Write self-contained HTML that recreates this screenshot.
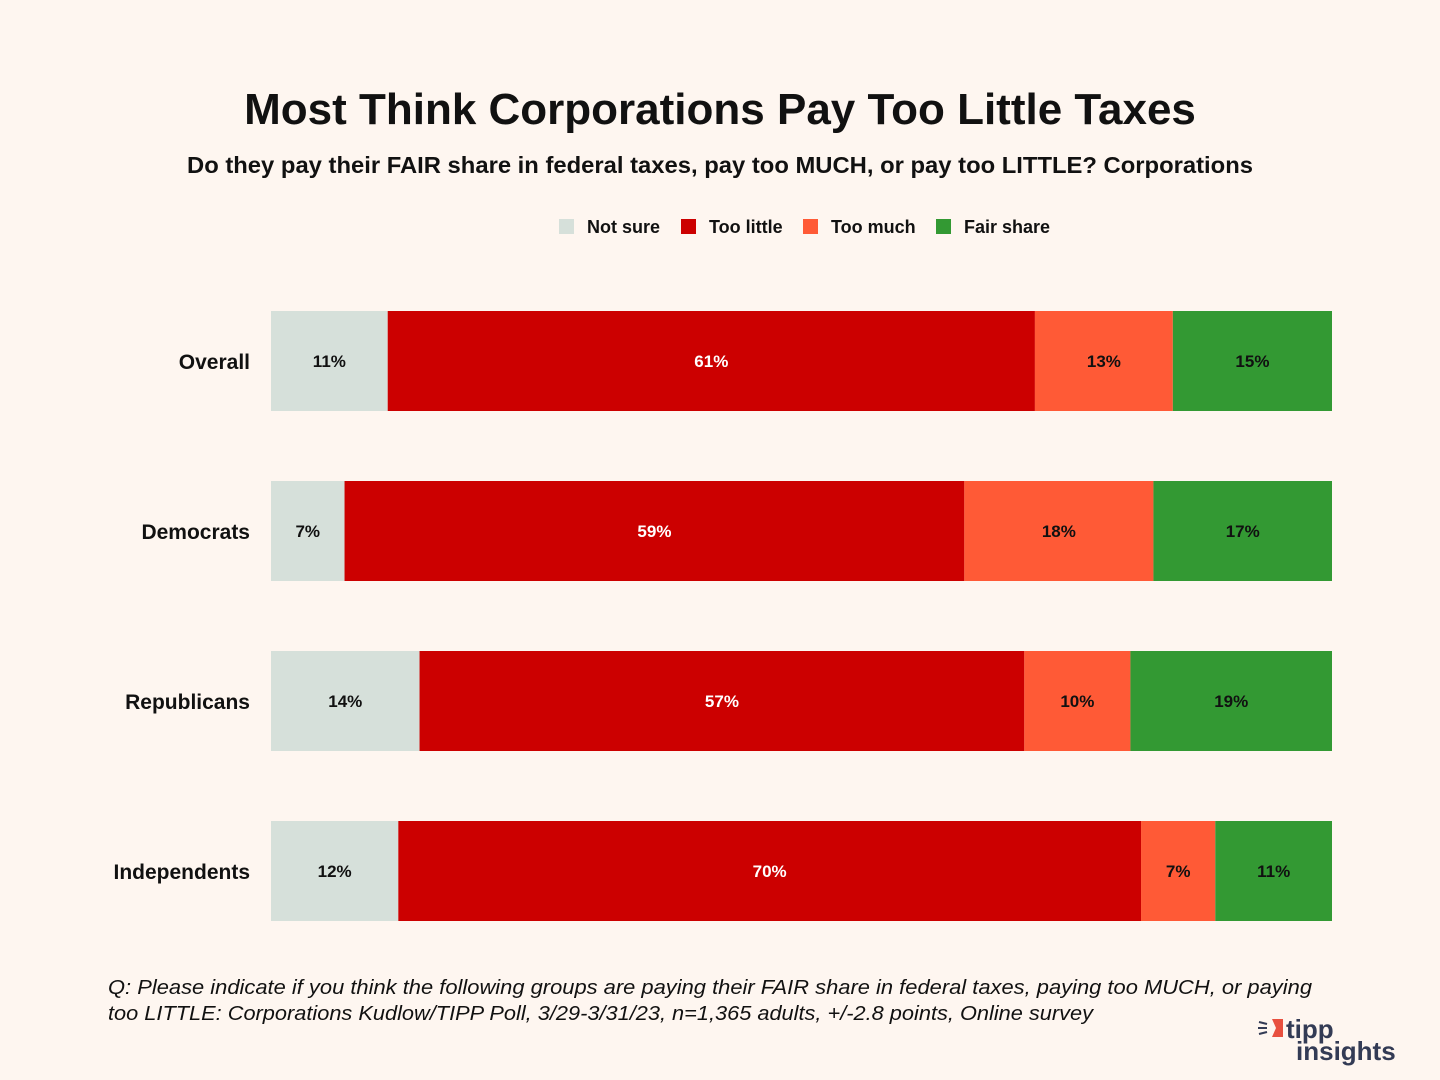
<!DOCTYPE html>
<html><head><meta charset="utf-8">
<style>
html,body{margin:0;padding:0;background:#fef6f0;}
svg{display:block;font-family:"Liberation Sans","DejaVu Sans",sans-serif;}
</style></head>
<body>
<svg id="chart" width="1440" height="1080" viewBox="0 0 1440 1080">
<rect width="1440" height="1080" fill="#fef6f0"/>
<text x="720" y="124" text-anchor="middle" font-size="44" font-weight="bold" fill="#111">Most Think Corporations Pay Too Little Taxes</text>
<text x="187" y="173" textLength="1066" lengthAdjust="spacingAndGlyphs" font-size="23" font-weight="bold" fill="#111">Do they pay their FAIR share in federal taxes, pay too MUCH, or pay too LITTLE? Corporations</text>
<g id="legend"></g>
<g id="bars"></g>
<text x="108" y="994" textLength="1204" lengthAdjust="spacingAndGlyphs" font-size="20" font-style="italic" fill="#111">Q: Please indicate if you think the following groups are paying their FAIR share in federal taxes, paying too MUCH, or paying</text>
<text x="108" y="1020" textLength="985" lengthAdjust="spacingAndGlyphs" font-size="20" font-style="italic" fill="#111">too LITTLE: Corporations Kudlow/TIPP Poll, 3/29-3/31/23, n=1,365 adults, +/-2.8 points, Online survey</text>
<g>
<path d="M1272 1019 L1283 1019 L1283 1037 L1272 1037 L1276 1028 Z" fill="#e8503f"/>
<line x1="1259" y1="1022" x2="1267" y2="1024" stroke="#333b55" stroke-width="2"/>
<line x1="1258" y1="1028" x2="1267" y2="1028" stroke="#333b55" stroke-width="2"/>
<line x1="1259" y1="1034" x2="1267" y2="1032" stroke="#333b55" stroke-width="2"/>
<text x="1286" y="1038" font-size="26" font-weight="bold" fill="#333b55">tipp</text>
<text x="1296" y="1060" font-size="26" font-weight="bold" fill="#333b55">insights</text>
</g>
</svg>
<script>
const categories = ["Overall","Democrats","Republicans","Independents"];
const seriesNames = ["Not sure","Too little","Too much","Fair share"];
const notSure = [11,7,14,12];
const tooLittle = [61,59,57,70];
const tooMuch = [13,18,10,7];
const fairShare = [15,17,19,11];
const colors = ["#d6e0da","#cc0000","#ff5a36","#339933"];
const labelColors = ["#111","#fff","#111","#111"];
const NS="http://www.w3.org/2000/svg";
const X0=271, X1=1332, Y0=311, STEP=170, BH=100;
function mk(tag, attrs, parent){const e=document.createElementNS(NS,tag);for(const k in attrs)e.setAttribute(k,attrs[k]);parent.appendChild(e);return e;}
const bars=document.getElementById('bars');
const series=[notSure,tooLittle,tooMuch,fairShare];
categories.forEach((cat,i)=>{
  const total=series.reduce((s,a)=>s+a[i],0);
  const xs=v=>X0+(X1-X0)*v/total;
  const y=Y0+i*STEP;
  const lab=mk('text',{x:250,y:y+BH/2+8,'text-anchor':'end','font-size':21,'font-weight':'bold',fill:'#111'},bars);
  
  
  lab.textContent=cat;
  let cum=0;
  series.forEach((arr,j)=>{
    const xa=xs(cum), xb=xs(cum+arr[i]); cum+=arr[i];
    const r=mk('rect',{x:xa,y:y,width:xb-xa,height:BH,fill:colors[j]},bars);
    
    
    const t=mk('text',{x:(xa+xb)/2,y:y+BH/2+6,'text-anchor':'middle','font-size':17,'font-weight':'bold',fill:labelColors[j]},bars);
    
    
    t.textContent=arr[i]+'%';
  });
});
const legend=document.getElementById('legend');
const legX=[559,681,803,936];
seriesNames.forEach((n,j)=>{
  const r=mk('rect',{x:legX[j],y:219,width:15,height:15,fill:colors[j]},legend);
  
  
  const t=mk('text',{x:legX[j]+28,y:233,'font-size':18,'font-weight':'bold',fill:'#111'},legend);
  
  
  t.textContent=n;
});
</script>
</body></html>
